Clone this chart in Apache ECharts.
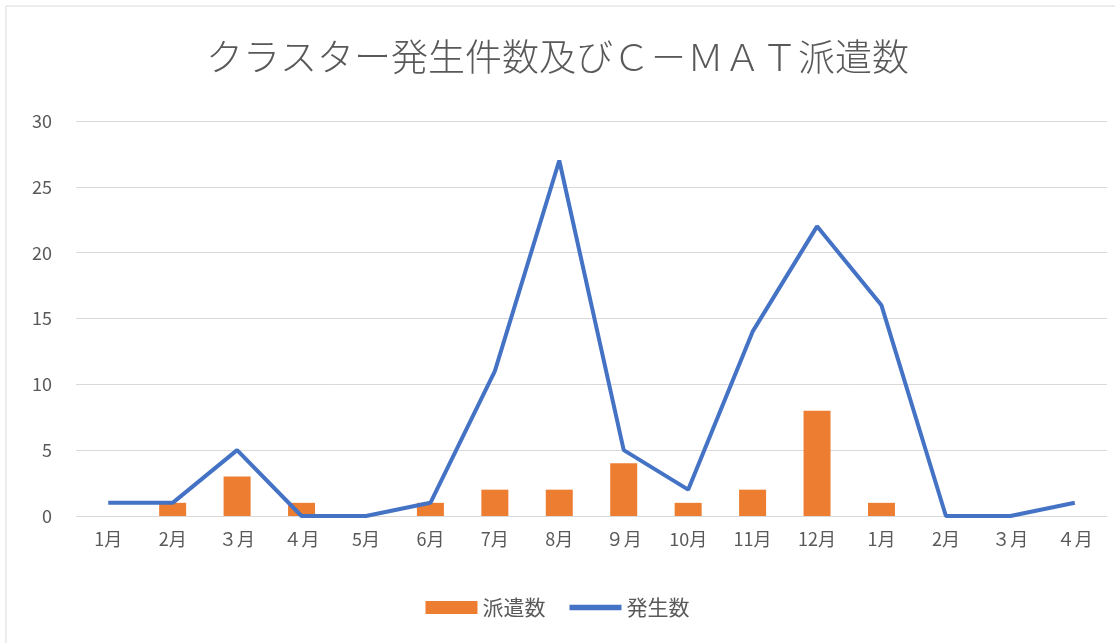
<!DOCTYPE html>
<html><head><meta charset="utf-8">
<script src="https://cdn.jsdelivr.net/npm/echarts@6/dist/echarts.min.js"></script>
<style>html,body{margin:0;padding:0;background:#fff}#c{width:1115px;height:643px}</style>
</head><body><div id="c"></div>
<script>
var categories = ['1月','2月','３月','４月','5月','6月','7月','8月','９月','10月','11月','12月','1月','2月','３月','４月'];
var dispatchValues = [0,1,3,1,0,1,2,2,4,1,2,8,1,0,0,0];
var outbreakValues = [1,1,5,0,0,1,11,27,5,2,14,22,16,0,0,1];
var yTicks = [0,5,10,15,20,25,30];

var chart = echarts.init(document.getElementById('c'));
var font = '"Noto Sans CJK JP","Noto Sans",sans-serif';
chart.setOption({
  animation: false,
  graphic: [{type:'rect', shape:{x:6,y:6,width:1200,height:700}, style:{fill:'none', stroke:'#d9d9d9', lineWidth:1}}],
  title: {text:'クラスター発生件数及びＣ－ＭＡＴ派遣数', left:'center', top:33,
    textStyle:{fontFamily:font, fontSize:37, fontWeight:300, color:'#595959'}},
  legend: {bottom:20, left:'center', itemGap:24, itemWidth:52, itemHeight:13,
    textStyle:{fontFamily:font, fontSize:21, color:'#595959'},
    data:[{name:'派遣数', icon:'rect'},
          {name:'発生数', icon:'path://M0,0 L40,0 L40,0.01 Z M0,2.8 L40,2.8 L40,7.2 L0,7.2 Z M0,10 L40,10 L40,9.99 Z'}]},
  grid: {left:76, right:8, top:121, bottom:127},
  xAxis: {type:'category', data:categories, boundaryGap:true,
    axisLine:{show:false}, axisTick:{show:false},
    axisLabel:{fontFamily:font, fontSize:18, color:'#595959', margin:14}},
  yAxis: {type:'value', min:yTicks[0], max:yTicks[yTicks.length-1], interval:5,
    axisLine:{show:false}, axisTick:{show:false},
    splitLine:{lineStyle:{color:'#d9d9d9', width:1}},
    axisLabel:{fontFamily:font, fontSize:18, color:'#595959', margin:24}},
  series: [
    {name:'派遣数', type:'bar', data:dispatchValues, barWidth:27, itemStyle:{color:'#ED7D31'}},
    {name:'発生数', type:'line', data:outbreakValues, symbol:'none', lineStyle:{color:'#4472C4', width:4}, itemStyle:{color:'#4472C4'}}
  ]
});
</script></body></html>
